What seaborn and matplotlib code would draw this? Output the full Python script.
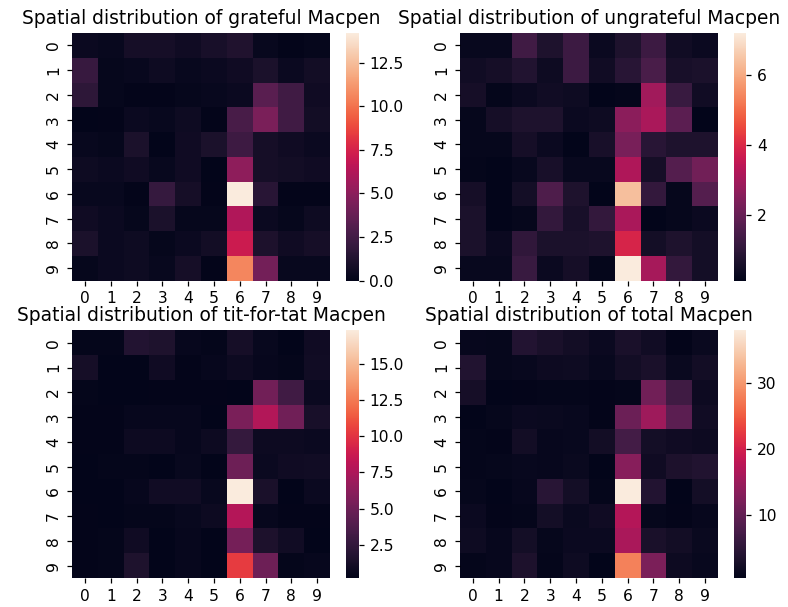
import numpy as np
import matplotlib
matplotlib.use("Agg")
import matplotlib.pyplot as plt
import seaborn as sns

rows = list(range(10))
cols = list(range(10))

grateful = [
    [0.4, 0.3, 0.8, 0.8, 0.6, 0.9, 1.2, 0.3, 0.1, 0.2],
    [2.1, 0.2, 0.3, 0.5, 0.3, 0.4, 0.6, 1.0, 0.4, 0.7],
    [1.7, 0.2, 0.1, 0.1, 0.2, 0.3, 0.4, 3.3, 2.4, 0.6],
    [0.0, 0.1, 0.4, 0.3, 0.5, 0.1, 2.7, 4.4, 2.4, 0.7],
    [0.3, 0.2, 1.0, 0.0, 0.6, 1.0, 2.3, 0.8, 0.6, 0.4],
    [0.5, 0.4, 0.6, 0.3, 0.6, 0.0, 5.1, 0.8, 0.7, 0.6],
    [0.3, 0.3, 0.1, 2.0, 0.8, 0.1, 14.2, 1.5, 0.1, 0.1],
    [0.6, 0.4, 0.2, 1.0, 0.2, 0.2, 6.2, 0.4, 0.2, 0.5],
    [1.0, 0.4, 0.5, 0.2, 0.4, 0.7, 7.1, 1.1, 0.6, 0.8],
    [0.2, 0.4, 0.5, 0.3, 0.8, 0.1, 10.6, 4.2, 0.3, 0.3],
]

ungrateful = [
    [0.30, 0.30, 1.35, 0.70, 1.25, 0.35, 0.70, 1.25, 0.45, 0.35],
    [0.45, 0.55, 0.75, 0.40, 1.25, 0.45, 0.90, 1.50, 0.60, 0.65],
    [0.55, 0.20, 0.35, 0.45, 0.40, 0.14, 0.20, 2.97, 1.20, 0.45],
    [0.25, 0.55, 0.70, 0.70, 0.35, 0.40, 2.60, 3.10, 1.80, 0.15],
    [0.25, 0.25, 0.55, 0.35, 0.15, 0.60, 2.30, 0.90, 0.70, 0.70],
    [0.20, 0.15, 0.30, 0.60, 0.30, 0.30, 3.20, 0.55, 1.70, 2.20],
    [0.55, 0.14, 0.50, 1.60, 0.70, 0.15, 6.40, 1.10, 0.25, 1.70],
    [0.65, 0.14, 0.25, 1.10, 0.60, 1.10, 3.10, 0.15, 0.25, 0.35],
    [0.65, 0.35, 1.05, 0.65, 0.65, 0.70, 3.90, 0.50, 0.70, 0.50],
    [0.30, 0.30, 1.20, 0.35, 0.55, 0.20, 7.20, 3.05, 1.10, 0.50],
]

titfortat = [
    [0.4, 0.4, 1.8, 1.6, 0.5, 0.4, 1.2, 0.6, 0.2, 0.9],
    [1.2, 0.2, 0.2, 0.9, 0.3, 0.5, 0.8, 0.5, 0.4, 1.0],
    [0.4, 0.2, 0.2, 0.3, 0.3, 0.3, 0.2, 5.2, 3.1, 0.7],
    [0.3, 0.3, 0.5, 0.5, 0.5, 0.2, 5.5, 7.7, 5.1, 1.3],
    [0.3, 0.3, 0.8, 0.8, 0.5, 0.8, 2.6, 0.8, 0.8, 0.7],
    [0.2, 0.4, 0.4, 0.2, 0.6, 0.2, 5.0, 0.7, 0.9, 1.0],
    [0.2, 0.2, 0.5, 1.0, 1.0, 0.6, 17.3, 1.4, 0.2, 0.7],
    [0.3, 0.2, 0.4, 0.4, 0.6, 0.8, 7.8, 0.5, 0.3, 0.3],
    [0.3, 0.4, 0.9, 0.2, 0.5, 0.2, 5.3, 1.5, 1.0, 0.2],
    [0.3, 0.4, 1.6, 0.2, 0.5, 0.2, 10.3, 5.0, 0.4, 0.5],
]

total = [
    [1.10, 1.00, 3.95, 3.10, 2.35, 1.65, 3.10, 2.15, 0.75, 1.45],
    [3.75, 0.95, 1.25, 1.80, 1.85, 1.35, 2.30, 3.00, 1.40, 2.35],
    [2.65, 0.60, 0.65, 0.85, 0.90, 0.74, 0.80, 11.47, 6.70, 1.75],
    [0.55, 0.95, 1.60, 1.50, 1.35, 0.70, 10.80, 15.20, 9.30, 2.15],
    [0.85, 0.75, 2.35, 1.15, 1.25, 2.40, 7.20, 2.50, 2.10, 1.80],
    [0.90, 0.95, 1.30, 1.10, 1.50, 0.50, 13.30, 2.05, 3.30, 3.80],
    [1.05, 0.64, 1.10, 4.60, 2.50, 0.85, 38.00, 4.00, 0.55, 2.50],
    [1.55, 0.74, 0.85, 2.50, 1.40, 2.10, 17.10, 1.05, 0.75, 1.15],
    [1.95, 1.15, 2.45, 1.05, 1.55, 1.60, 16.30, 3.10, 2.30, 1.50],
    [0.80, 1.10, 3.30, 0.85, 1.85, 0.50, 28.10, 12.25, 1.80, 1.30],
]

titles = [
    "Spatial distribution of grateful Macpen",
    "Spatial distribution of ungrateful Macpen",
    "Spatial distribution of tit-for-tat Macpen",
    "Spatial distribution of total Macpen",
]

DPI = 112
fig, axes = plt.subplots(2, 2, figsize=(788 / DPI, 607 / DPI), dpi=DPI)
fig.subplots_adjust(left=0.0914, right=0.993, top=0.9456, bottom=0.0478,
                    wspace=0.203, hspace=0.202)

for ax, data, title in zip(axes.flat, [grateful, ungrateful, titfortat, total], titles):
    sns.heatmap(np.array(data), ax=ax, xticklabels=cols, yticklabels=rows)
    ax.set_title(title)

fig.savefig("out.png", dpi=DPI)
